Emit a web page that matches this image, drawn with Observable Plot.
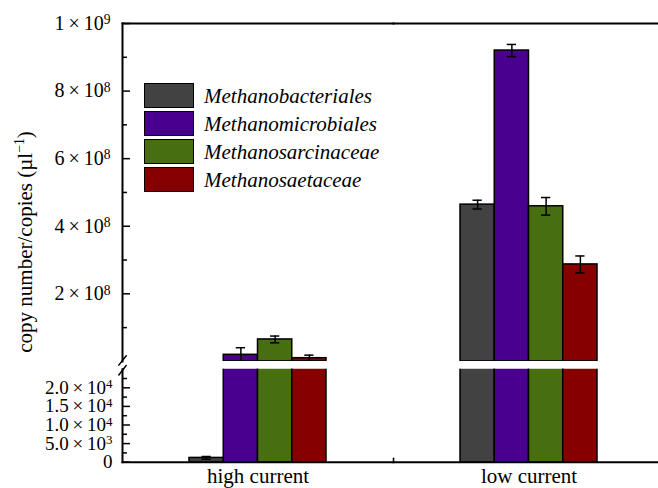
<!DOCTYPE html>
<html>
<head>
<meta charset="utf-8">
<script src="https://cdn.jsdelivr.net/npm/d3@7"></script>
<script src="https://cdn.jsdelivr.net/npm/@observablehq/plot@0.6"></script>
<style>
  body { margin: 0; background: #fff; }
  #wrap { position: relative; width: 658px; height: 488px; overflow: hidden;
          font-family: "Liberation Serif", "Times New Roman", serif; color: #000; }
  #wrap svg { position: absolute; left: 0; top: 0; }
  .legend { position: absolute; left: 144px; top: 83px; }
  .row { display: flex; align-items: center; height: 25px; margin-bottom: 3px; }
  .sw { width: 50px; height: 25px; box-sizing: border-box; border: 1.5px solid #000; }
  .lab { margin-left: 10px; font-style: italic; font-size: 21px; line-height: 1; position: relative; top: 1px; }
  .ylab { position: absolute; left: 25px; top: 242px; white-space: nowrap; font-size: 21px; line-height: 1;
          transform: translate(-50%, -50%) rotate(-90deg); }
  .ylab sup { font-size: 0.65em; line-height: 0; vertical-align: 0.55em; }
</style>
</head>
<body>
<div id="wrap"></div>
<script>
const categories = ["high current", "low current"];
const series = ["Methanobacteriales", "Methanomicrobiales", "Methanosarcinaceae", "Methanosaetaceae"];
const colors = ["#424242", "#4a008f", "#486e12", "#870000"];

const highValues = [1150, 1.95e7, 6.5e7, 0.95e7];
const highErrors = [350, 2.1e7, 1.0e7, 0.9e7];
const lowValues = [4.64e8, 9.2e8, 4.59e8, 2.87e8];
const lowErrors = [1.3e7, 1.8e7, 2.6e7, 2.5e7];

const lowerDomain = [0, 25000];
const lowerTicks = [0, 5000, 10000, 15000, 20000];
const lowerTickLabels = ["0", "5.0\u2009×\u200910³", "1.0\u2009×\u200910⁴", "1.5\u2009×\u200910⁴", "2.0\u2009×\u200910⁴"];
const lowerMinorTicks = [2500, 7500, 12500, 17500, 22500];

const upperDomain = [0, 1e9];
const upperTicks = [2e8, 4e8, 6e8, 8e8, 1e9];
const upperTickLabels = ["2\u2009×\u200910⁸", "4\u2009×\u200910⁸", "6\u2009×\u200910⁸", "8\u2009×\u200910⁸", "1\u2009×\u200910⁹"];
const upperMinorTicks = [1e8, 3e8, 5e8, 7e8, 9e8];

const yTitleBase = "copy number/copies (µl";
const yTitleSup = "−1";
const yTitleEnd = ")";

const rows = categories.flatMap((c, ci) => series.map((s, si) => {
  const v = ci === 0 ? highValues[si] : lowValues[si];
  const e = ci === 0 ? highErrors[si] : lowErrors[si];
  return {category: c, series: s, value: v, lo: v - e, hi: v + e};
}));
const lowerMax = lowerDomain[1];
const upperRows = rows.filter(d => d.value > lowerMax);
const lowerErrRows = rows.filter(d => d.value <= lowerMax);

const lowerLabelMap = new Map(lowerTicks.map((t, i) => [t, lowerTickLabels[i]]));
const upperLabelMap = new Map(upperTicks.map((t, i) => [t, upperTickLabels[i]]));

const line = {draw(context, l) { context.moveTo(0, 0); context.lineTo(0, -l); }};

const common = {
  width: 658, height: 488, marginLeft: 122, marginRight: -6,
  style: {background: "transparent", fontFamily: "Liberation Serif, Times New Roman, serif", fontSize: "20px", overflow: "hidden"},
  fx: {domain: categories, padding: 0, round: false},
  x: {domain: series, paddingInner: 0, paddingOuter: 1.956, round: false, axis: null},
  color: {domain: series, range: colors}
};

function errMarks(data) {
  return [
    Plot.ruleX(data, {fx: "category", x: "series", y1: "lo", y2: "hi", stroke: "black", strokeWidth: 1.5, clip: true}),
    Plot.tickY(data, {fx: "category", x: "series", y: "lo", insetLeft: 12.5, insetRight: 12.5, stroke: "black", strokeWidth: 1.5, clip: true}),
    Plot.tickY(data, {fx: "category", x: "series", y: "hi", insetLeft: 12.5, insetRight: 12.5, stroke: "black", strokeWidth: 1.5, clip: true})
  ];
}

const upper = Plot.plot({
  ...common,
  marginTop: 23, marginBottom: 127.1,
  y: {domain: upperDomain},
  fx: {...common.fx, axis: null},
  marks: [
    Plot.barY(upperRows, {fx: "category", x: "series", y: "value", fill: "series", stroke: "black", strokeWidth: 1.5, clip: true}),
    ...errMarks(upperRows),
    Plot.frame({anchor: "top", strokeWidth: 2}),
    Plot.frame({anchor: "left", facetAnchor: "left", strokeWidth: 2}),
    Plot.axisY(upperTicks, {tickSize: 0, tickPadding: 12, tickFormat: d => upperLabelMap.get(d), fontSize: 20, label: null}),
    Plot.axisY(upperTicks, {tickSize: -8, fill: "none", strokeWidth: 1.5, label: null}),
    Plot.axisY(upperMinorTicks, {tickSize: -5, fill: "none", strokeWidth: 1.5, label: null}),
    Plot.vector([0], {fx: ["high current"], frameAnchor: "bottom-left", rotate: 38, length: 12, anchor: "middle", shape: line, stroke: "black", strokeWidth: 1.5, dy: -1})
  ]
});

const lower = Plot.plot({
  ...common,
  marginTop: 368.7, marginBottom: 26.3,
  y: {domain: lowerDomain},
  marks: [
    Plot.barY(rows, {fx: "category", x: "series", y: "value", fill: "series", stroke: "black", strokeWidth: 1.5, clip: true}),
    ...errMarks(lowerErrRows),
    Plot.frame({anchor: "bottom", strokeWidth: 2}),
    Plot.frame({anchor: "left", facetAnchor: "left", strokeWidth: 2}),
    Plot.axisY(lowerTicks, {tickSize: 0, tickPadding: 10, tickFormat: d => lowerLabelMap.get(d), fontSize: 19, label: null}),
    Plot.axisY(lowerTicks, {tickSize: -8, fill: "none", strokeWidth: 1.5, label: null}),
    Plot.axisY(lowerMinorTicks, {tickSize: -5, fill: "none", strokeWidth: 1.5, label: null}),
    Plot.axisFx({anchor: "bottom", tickSize: 0, tickPadding: 6, fontSize: 21, label: null}),
    Plot.vector([0], {fx: ["high current"], frameAnchor: "top-left", rotate: 38, length: 12, anchor: "middle", shape: line, stroke: "black", strokeWidth: 1.5, dy: 1}),
    Plot.vector([0], {fx: ["low current"], frameAnchor: "bottom-left", rotate: 0, length: 4, anchor: "start", shape: line, stroke: "black", strokeWidth: 1.5})
  ]
});

// turn Unicode superscript exponents into raised tspans
const supMap = {"⁰":"0","¹":"1","²":"2","³":"3","⁴":"4","⁵":"5","⁶":"6","⁷":"7","⁸":"8","⁹":"9"};
function raiseExponents(svg) {
  svg.querySelectorAll("text").forEach(t => {
    const m = /^(.*10)([⁰¹²³⁴⁵⁶⁷⁸⁹]+)$/.exec(t.textContent);
    if (!m) return;
    t.textContent = m[1];
    const ts = document.createElementNS("http://www.w3.org/2000/svg", "tspan");
    ts.setAttribute("dy", "-0.42em");
    ts.setAttribute("font-size", "0.68em");
    ts.textContent = [...m[2]].map(c => supMap[c]).join("");
    t.appendChild(ts);
  });
}
raiseExponents(upper);
raiseExponents(lower);

const wrap = document.getElementById("wrap");
wrap.appendChild(lower);
wrap.appendChild(upper);

const legend = document.createElement("div");
legend.className = "legend";
series.forEach((s, i) => {
  const row = document.createElement("div");
  row.className = "row";
  const sw = document.createElement("div");
  sw.className = "sw";
  sw.style.background = colors[i];
  const lab = document.createElement("span");
  lab.className = "lab";
  lab.textContent = s;
  row.appendChild(sw);
  row.appendChild(lab);
  legend.appendChild(row);
});
wrap.appendChild(legend);

const yl = document.createElement("div");
yl.className = "ylab";
yl.appendChild(document.createTextNode(yTitleBase));
const sup = document.createElement("sup");
sup.textContent = yTitleSup;
yl.appendChild(sup);
yl.appendChild(document.createTextNode(yTitleEnd));
wrap.appendChild(yl);
</script>
</body>
</html>
